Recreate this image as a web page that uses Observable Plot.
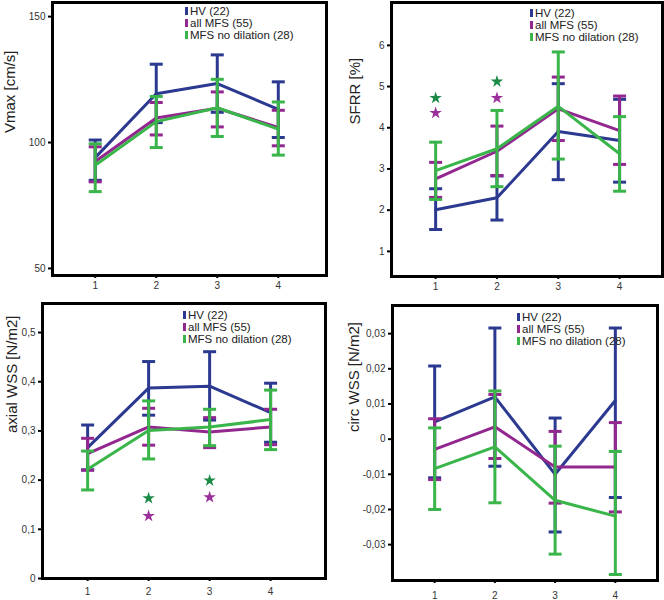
<!DOCTYPE html>
<html><head><meta charset="utf-8">
<script src="https://cdn.jsdelivr.net/npm/d3@7"></script>
<script src="https://cdn.jsdelivr.net/npm/@observablehq/plot@0.6"></script>
<style>
body{margin:0;background:#fff;font-family:"Liberation Sans",Arial,sans-serif;}
#wrap{position:relative;width:664px;height:600px;overflow:hidden;}
.panel{position:absolute;}
.legend{position:absolute;font-size:11.5px;line-height:12px;color:#222;}
.legend .row{display:flex;align-items:center;white-space:nowrap;height:12px;}
.legend .sw{display:inline-block;width:2.5px;height:8px;margin-right:2.5px;}
</style></head><body><div id="wrap"></div>
<script>
// ---- data ----
const positions = [1, 2, 3, 4];
const groups = ["HV (22)", "all MFS (55)", "MFS no dilation (28)"];
const groupColors = ["#2b3990", "#92278f", "#39b54a"];
const starFill = {"all MFS (55)": "#9b2f9b", "MFS no dilation (28)": "#1b8a46"};

// Vmax [cm/s]  (rows = groups, cols = positions)
const vmaxMean = [[94, 119.4, 123.4, 113.2], [92.5, 109.7, 113.6, 106], [91, 108.3, 113.8, 105.3]];
const vmaxLo   = [[85, 107.9, 112, 102],     [84.4, 103, 106.2, 98.7], [80.5, 98, 102.4, 95]];
const vmaxHi   = [[101, 131.1, 134.8, 124.1],[98.3, 115.9, 120.1, 112.8],[99.5, 118.3, 125.1, 116.1]];

// SFRR [%]
const sfrrMean = [[2.01, 2.30, 3.91, 3.69], [2.76, 3.43, 4.46, 3.93], [2.96, 3.49, 4.52, 3.37]];
const sfrrLo   = [[1.53, 1.76, 2.74, 2.68], [2.31, 2.84, 3.69, 3.11], [2.26, 2.57, 3.24, 2.46]];
const sfrrHi   = [[2.52, 2.83, 5.07, 4.69], [3.16, 4.04, 5.23, 4.77], [3.65, 4.42, 5.84, 4.27]];
const sfrrStars = [
  {x: 1, y: 4.36, group: "all MFS (55)"}, {x: 1, y: 4.72, group: "MFS no dilation (28)"},
  {x: 2, y: 4.72, group: "all MFS (55)"}, {x: 2, y: 5.12, group: "MFS no dilation (28)"}
];

// axial WSS [N/m2]
const axialMean = [[0.266, 0.387, 0.391, 0.337], [0.254, 0.308, 0.298, 0.308], [0.222, 0.301, 0.308, 0.323]];
const axialLo   = [[0.221, 0.332, 0.322, 0.277], [0.220, 0.271, 0.266, 0.272], [0.180, 0.243, 0.270, 0.262]];
const axialHi   = [[0.312, 0.441, 0.461, 0.397], [0.285, 0.346, 0.327, 0.344], [0.259, 0.361, 0.344, 0.383]];
const axialStars = [
  {x: 2, y: 0.127, group: "all MFS (55)"}, {x: 2, y: 0.163, group: "MFS no dilation (28)"},
  {x: 3, y: 0.165, group: "all MFS (55)"}, {x: 3, y: 0.199, group: "MFS no dilation (28)"}
];

// circ WSS [N/m2]
const circMean = [[0.0049, 0.012, -0.010, 0.011], [-0.0029, 0.0035, -0.0079, -0.0079], [-0.0084, -0.0022, -0.0174, -0.0219]];
const circLo   = [[-0.011, -0.0077, -0.0264, -0.0166], [-0.0115, -0.0055, -0.0182, -0.0207], [-0.020, -0.0181, -0.0327, -0.0385]];
const circHi   = [[0.0208, 0.0316, 0.006, 0.0316], [0.0058, 0.0127, 0.0022, 0.0047], [0.0032, 0.0137, -0.002, -0.0035]];

const vmaxTicks = [50, 100, 150];
const sfrrTicks = [1, 2, 3, 4, 5, 6];
const axialTicks = [0, 0.1, 0.2, 0.3, 0.4, 0.5];
const circTicks = [-0.03, -0.02, -0.01, 0, 0.01, 0.02, 0.03];

// ---- build ----
function rows(mean, lo, hi) {
  return groups.flatMap((g, gi) => positions.map((x, i) => ({group: g, x, mean: mean[gi][i], lo: lo[gi][i], hi: hi[gi][i]})));
}
const comma = d => String(d).replace(".", ",");
const capSymbol = {draw(ctx, size) { const r = Math.sqrt(size / Math.PI); ctx.moveTo(-r, 0); ctx.lineTo(r, 0); }};

const panels = [
  {left: 0, top: 0, margin: [2, 6, 25, 52], xDomain: [0.3, 4.79], yDomain: [47.2, 155.6], ticks: vmaxTicks, fmt: d => String(d),
   label: "Vmax [cm/s]", ldx: -42, ldy: -6, padX: 3, data: rows(vmaxMean, vmaxLo, vmaxHi), stars: [], legend: [185, 5]},
  {left: 332, top: 0, margin: [2, 2, 24, 59], xDomain: [0.28, 4.70], yDomain: [0.39, 7.04], ticks: sfrrTicks, fmt: d => String(d),
   label: "SFRR [%]", ldx: -36, ldy: -15, padX: 3, data: rows(sfrrMean, sfrrLo, sfrrHi), stars: sfrrStars, legend: [530, 7]},
  {left: 0, top: 300, margin: [3, 7, 22, 42], xDomain: [0.26, 4.9], yDomain: [0, 0.559], ticks: axialTicks, fmt: comma,
   label: "axial WSS [N/m2]", ldx: -30, ldy: -8, padX: 6, data: rows(axialMean, axialLo, axialHi), stars: axialStars, legend: [183, 309]},
  {left: 332, top: 300, margin: [5, 7, 20, 60], xDomain: [0.30, 4.70], yDomain: [-0.0402, 0.038], ticks: circTicks, fmt: comma,
   label: "circ WSS [N/m2]", ldx: -38, ldy: -11, padX: 8, data: rows(circMean, circLo, circHi), stars: [], legend: [517, 311]}
];

const wrap = document.getElementById("wrap");
for (const p of panels) {
  const [mt, mr, mb, ml] = p.margin;
  const groupMarks = groups.flatMap(g => {
    const d = p.data.filter(r => r.group === g);
    return [
      Plot.ruleX(d, {x: "x", y1: "lo", y2: "hi", stroke: "group", strokeWidth: 3}),
      Plot.dot(d, {x: "x", y: "lo", symbol: capSymbol, r: 6.5, fill: "none", stroke: "group", strokeWidth: 3}),
      Plot.dot(d, {x: "x", y: "hi", symbol: capSymbol, r: 6.5, fill: "none", stroke: "group", strokeWidth: 3}),
      Plot.line(d, {x: "x", y: "mean", stroke: "group", strokeWidth: 3})
    ];
  });
  const chart = Plot.plot({
    width: 332, height: 300,
    marginTop: mt, marginRight: mr, marginBottom: mb, marginLeft: ml,
    style: {background: "transparent", overflow: "visible", fontFamily: "'Liberation Sans', Arial, sans-serif"},
    x: {domain: p.xDomain},
    y: {domain: p.yDomain},
    color: {domain: groups, range: groupColors},
    marks: [
      Plot.axisY({ticks: p.ticks, tickFormat: p.fmt, tickSize: 4, tickPadding: 3, strokeWidth: 2, stroke: "#000", fill: "#333", fontSize: 10, label: null}),
      Plot.axisX({ticks: positions, tickFormat: d => String(d), tickSize: 3, tickPadding: p.padX, strokeWidth: 2, stroke: "#000", fill: "#333", fontSize: 10, label: null}),
      ...groupMarks,
      Plot.dot(p.stars, {x: "x", y: "y", symbol: "star", r: 3.9, fill: d => starFill[d.group], stroke: "none"}),
      Plot.text([p.label], {frameAnchor: "left", rotate: -90, dx: p.ldx, dy: p.ldy, fontSize: 15, fill: "#222"}),
      Plot.frame({stroke: "#000", strokeWidth: 3})
    ]
  });
  const div = document.createElement("div");
  div.className = "panel";
  div.style.left = p.left + "px";
  div.style.top = p.top + "px";
  div.appendChild(chart);
  wrap.appendChild(div);

  const lg = document.createElement("div");
  lg.className = "legend";
  lg.style.left = p.legend[0] + "px";
  lg.style.top = p.legend[1] + "px";
  groups.forEach((g, i) => {
    const row = document.createElement("div");
    row.className = "row";
    const sw = document.createElement("span");
    sw.className = "sw";
    sw.style.background = groupColors[i];
    row.appendChild(sw);
    row.appendChild(document.createTextNode(g));
    lg.appendChild(row);
  });
  wrap.appendChild(lg);
}
</script>
</body></html>
